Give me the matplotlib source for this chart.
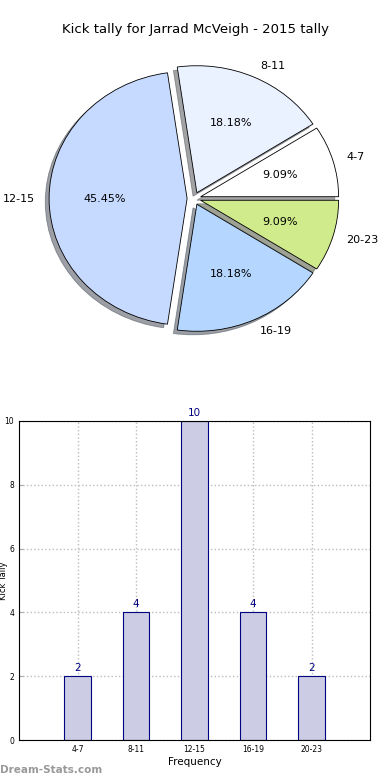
import matplotlib
matplotlib.use("Agg")
import matplotlib.pyplot as plt

labels = ['4-7', '8-11', '12-15', '16-19', '20-23']
counts = [2, 4, 10, 4, 2]
pie_colors = ['#ffffff', '#eaf2ff', '#c6d9ff', '#b5d7ff', '#d0eb8b']
explode = [0.05, 0.05, 0.05, 0.05, 0.05]
title = 'Kick tally for Jarrad McVeigh - 2015 tally'

fig = plt.figure(figsize=(3.9, 7.8), dpi=100)

# pie on top (old style, not forced to a circle)
rx, ry = 138.0, 127.0
cx, cy = 194.0, 198.5
ax1 = fig.add_axes([(cx - 1.25*rx)/390, (780 - cy - 1.25*ry)/780, 2.5*rx/390, 2.5*ry/780])
wedges, txts, autotxts = ax1.pie(counts, labels=labels, colors=pie_colors, explode=explode,
                                 autopct='%.2f%%', shadow=True, startangle=0,
                                 wedgeprops={'edgecolor': 'black', 'linewidth': 0.6},
                                 textprops={'fontsize': 8})
ax1.set_xlim(-1.25, 1.25)
ax1.set_ylim(-1.25, 1.25)
ax1.set_aspect('auto')
fig.text(0.5, 1 - 30/780, title, ha='center', va='center', fontsize=9.5)

# bars below
ax2 = fig.add_axes([19/390, 40/780, 351/390, 319/780])
x = list(range(len(labels)))
bars = ax2.bar(x, counts, width=0.46, color='#ccccE5', edgecolor='#000080', linewidth=0.8, zorder=2)
for xi, c in zip(x, counts):
    ax2.text(xi, c + 0.1, str(c), ha='center', va='bottom', fontsize=7.5, color='#000080')
ax2.set_xlim(-1, 5)
ax2.set_ylim(0, 10)
ax2.set_xticks(x)
ax2.set_xticklabels(labels)
ax2.set_yticks(range(0, 11, 2))
ax2.tick_params(labelsize=5.5, length=3, color='#aaaaaa', direction='in')
ax2.grid(True, linestyle=':', color='#bbbbbb', linewidth=1, zorder=0)
ax2.set_axisbelow(True)
ax2.set_xlabel('Frequency', fontsize=7.5, labelpad=2)
ax2.set_ylabel('Kick Tally', fontsize=6)
ax2.yaxis.set_label_coords(-0.03, 0.5)

fig.text(0.0, 1 - 770/780, 'Dream-Stats.com', ha='left', va='center', fontsize=7.5,
         color='#999999', fontweight='bold')

fig.savefig('out.png', dpi=100)
